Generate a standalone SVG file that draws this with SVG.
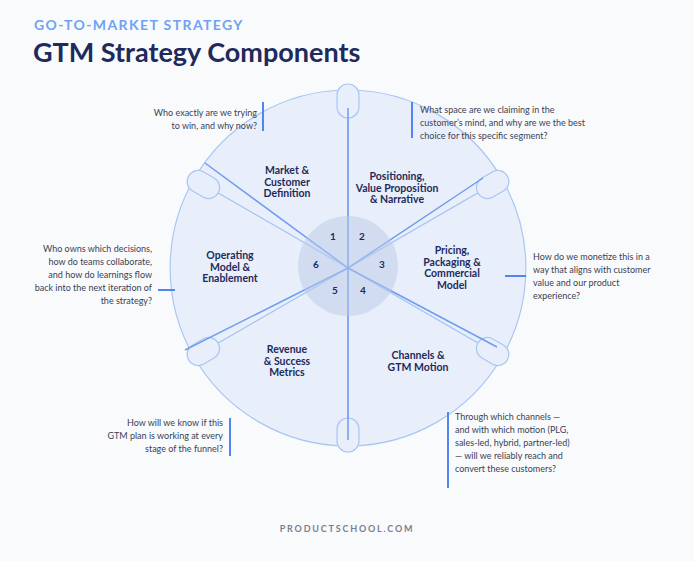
<svg xmlns="http://www.w3.org/2000/svg" width="694" height="561" viewBox="0 0 694 561">
<style>
.q{font-family:Lato,"Liberation Sans",sans-serif;font-size:9px;fill:#3a3f55}
.l{font-family:Lato,"Liberation Sans",sans-serif;font-size:10.5px;font-weight:bold;fill:#1f2a5c;text-anchor:middle}
.n{font-family:Lato,"Liberation Sans",sans-serif;font-size:10px;font-weight:bold;fill:#1f2a5c;text-anchor:middle}
.w{fill:#e6edf9;fill-opacity:0.9;stroke:#a9c6f5;stroke-width:1.2}
.b{stroke:#6f9cf0;stroke-width:1.5;fill:none}
.bl{stroke:#4f86f0;stroke-width:2}
.tab{fill:#e9effa;stroke:#a9c6f5;stroke-width:1.2}
</style>
<rect width="694" height="561" fill="#f9fafc"/>
<text x="34" y="30" font-family="Lato,'Liberation Sans',sans-serif" font-size="14" font-weight="bold" letter-spacing="1.4" fill="#6ea3f2">GO-TO-MARKET STRATEGY</text>
<text x="33" y="62" font-family="Lato,'Liberation Sans',sans-serif" font-size="27" font-weight="bold" fill="#1e2a5c">GTM Strategy Components</text>
<g id="wheel">
<g id="node1"><path class="w" d="M348 268 L194 179 A178 178 0 0 1 348 90 Z"/></g>
<g id="node2"><path class="w" d="M348 268 L348 90 A178 178 0 0 1 502 179 Z"/></g>
<g id="node3"><path class="w" d="M348 268 L502 179 A178 178 0 0 1 502 357 Z"/></g>
<g id="node4"><path class="w" d="M348 268 L502 357 A178 178 0 0 1 348 446 Z"/></g>
<g id="node5"><path class="w" d="M348 268 L348 446 A178 178 0 0 1 194 357 Z"/></g>
<g id="node6"><path class="w" d="M348 268 L194 357 A178 178 0 0 1 194 179 Z"/></g>
<g id="tabs">
<rect class="tab" x="337" y="84" width="22" height="34" rx="11"/>
<rect class="tab" x="337" y="84" width="22" height="34" rx="11" transform="rotate(60 348 268)"/>
<rect class="tab" x="337" y="84" width="22" height="34" rx="11" transform="rotate(120 348 268)"/>
<rect class="tab" x="337" y="84" width="22" height="34" rx="11" transform="rotate(180 348 268)"/>
<rect class="tab" x="337" y="84" width="22" height="34" rx="11" transform="rotate(240 348 268)"/>
<rect class="tab" x="337" y="84" width="22" height="34" rx="11" transform="rotate(300 348 268)"/>
</g>
<g id="connectors">
<line class="b" x1="348" y1="268" x2="205" y2="163"/>
<line class="b" x1="348" y1="268" x2="348" y2="108"/>
<line class="b" x1="348" y1="268" x2="483" y2="178"/>
<line class="b" x1="348" y1="268" x2="497" y2="347"/>
<line class="b" x1="348" y1="268" x2="348" y2="440"/>
<line class="b" x1="348" y1="268" x2="185" y2="350"/>
<line class="bl" x1="263" y1="102" x2="263" y2="131"/>
<line class="bl" x1="412" y1="102" x2="412" y2="138"/>
<line class="bl" x1="505" y1="276" x2="526" y2="276"/>
<line class="bl" x1="158" y1="290" x2="175" y2="290"/>
<line class="bl" x1="230" y1="418" x2="230" y2="456"/>
<line class="bl" x1="448" y1="412" x2="448" y2="488"/>
</g>
<circle cx="348" cy="266" r="50" fill="#b9c9e8" fill-opacity="0.5"/>
</g>
<text class="n" x="333" y="240">1</text>
<text class="n" x="362" y="240">2</text>
<text class="n" x="382" y="268">3</text>
<text class="n" x="363" y="294">4</text>
<text class="n" x="335" y="294">5</text>
<text class="n" x="316" y="268">6</text>
<text class="l" x="287" y="174">Market &amp;<tspan x="287" dy="11.5">Customer</tspan><tspan x="287" dy="11.5">Definition</tspan></text>
<text class="l" x="397" y="180">Positioning,<tspan x="397" dy="11.5">Value Proposition</tspan><tspan x="397" dy="11.5">&amp; Narrative</tspan></text>
<text class="l" x="452" y="254">Pricing,<tspan x="452" dy="11.5">Packaging &amp;</tspan><tspan x="452" dy="11.5">Commercial</tspan><tspan x="452" dy="11.5">Model</tspan></text>
<text class="l" x="230" y="259">Operating<tspan x="230" dy="11.5">Model &amp;</tspan><tspan x="230" dy="11.5">Enablement</tspan></text>
<text class="l" x="287" y="353">Revenue<tspan x="287" dy="11.5">&amp; Success</tspan><tspan x="287" dy="11.5">Metrics</tspan></text>
<text class="l" x="418" y="359">Channels &amp;<tspan x="418" dy="11.5">GTM Motion</tspan></text>
<text class="q" x="257" y="116" text-anchor="end">Who exactly are we trying<tspan x="257" dy="13">to win, and why now?</tspan></text>
<text class="q" x="420" y="113">What space are we claiming in the<tspan x="420" dy="13">customer’s mind, and why are we the best</tspan><tspan x="420" dy="13">choice for this specific segment?</tspan></text>
<text class="q" x="533" y="260">How do we monetize this in a<tspan x="533" dy="13">way that aligns with customer</tspan><tspan x="533" dy="13">value and our product</tspan><tspan x="533" dy="13">experience?</tspan></text>
<text class="q" x="152" y="252" text-anchor="end">Who owns which decisions,<tspan x="152" dy="13">how do teams collaborate,</tspan><tspan x="152" dy="13">and how do learnings flow</tspan><tspan x="152" dy="13">back into the next iteration of</tspan><tspan x="152" dy="13">the strategy?</tspan></text>
<text class="q" x="223" y="426" text-anchor="end">How will we know if this<tspan x="223" dy="13">GTM plan is working at every</tspan><tspan x="223" dy="13">stage of the funnel?</tspan></text>
<text class="q" x="455" y="420">Through which channels —<tspan x="455" dy="13">and with which motion (PLG,</tspan><tspan x="455" dy="13">sales-led, hybrid, partner-led)</tspan><tspan x="455" dy="13">— will we reliably reach and</tspan><tspan x="455" dy="13">convert these customers?</tspan></text>
<text x="347" y="532" text-anchor="middle" font-family="Lato,'Liberation Sans',sans-serif" font-size="9" font-weight="bold" letter-spacing="1.8" fill="#7a7f8e">PRODUCTSCHOOL.COM</text>
</svg>
